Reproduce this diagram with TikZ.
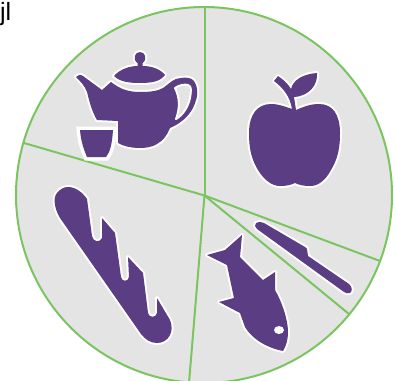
\documentclass[tikz,border=0pt]{standalone}
\usepackage{fontspec}
\setmainfont{Liberation Sans}
\definecolor{platepurple}{RGB}{90,61,130}
\definecolor{softgray}{RGB}{228,228,228}
\definecolor{spokegreen}{RGB}{122,197,96}

\begin{document}
\begin{tikzpicture}[
    x=1pt, y=-1pt,
    spoke/.style={draw=spokegreen, line width=2pt},
    food/.style={fill=platepurple, preaction={draw=white, line width=4pt, line join=round}},
    hole/.style={fill=softgray, draw=white, line width=2pt, line join=round}
]
\useasboundingbox (0,0) rectangle (395,380);
\clip (0,0) rectangle (395,380);

% Plate and spokes
\coordinate (hub) at (204.5,195.5);
\node[circle, fill=softgray, draw=spokegreen, line width=2pt, minimum size=376pt, inner sep=0pt] (plate) at (204,195) {};
\coordinate (spoketop) at (204.5,7);
\coordinate (spokeleft) at (24,143);
\coordinate (spokebottom) at (189,383);
\coordinate (spokeknife) at (380,261);
\coordinate (spokefish) at (349,314);
\foreach \s in {spoketop,spokeleft,spokebottom,spokeknife,spokefish}
    \draw[spoke] (hub) -- (\s);

% Teapot
\path[food] (114,76) .. controls (120,69) and (130,66) .. (137.5,66) -- (137.5,63) .. controls (132,59) and (135,52) .. (140,52)
    .. controls (145,52) and (148,59) .. (142.5,63) -- (142.5,66) .. controls (152,66) and (160,69) .. (165,75)
    .. controls (160,82) and (150,83) .. (140,83) .. controls (130,83) and (120,82) .. (114,76) -- cycle;
\path[food] (76,77) .. controls (78,75) and (80,74) .. (83,76) -- (102,90) -- (111,82)
    .. controls (120,89) and (128,92) .. (140,92) .. controls (150,92) and (158,91) .. (163,88)
    .. controls (170,83) and (174,78) .. (181,78) .. controls (186,77) and (191,78) .. (193,80)
    .. controls (198,85) and (198,95) .. (196,100) .. controls (193,112) and (184,122) .. (170,128)
    .. controls (168,132) and (167,135) .. (165,137) .. controls (162,141) and (160,142) .. (157,144)
    .. controls (148,150) and (128,149) .. (118,143)
    -- (118,121) -- (97,120) .. controls (92,112) and (89,100) .. (87,92) .. controls (85,86) and (80,81) .. (76,77) -- cycle;
\draw[hole] (175,88) .. controls (179,85) and (185,84) .. (188,85) .. controls (192,86) and (191,92) .. (190,98)
    .. controls (188,107) and (183,115) .. (176,119) .. controls (180,108) and (180,98) .. (175,88) -- cycle;
% Cup
\path[food, preaction={draw=white, line width=7pt, miter limit=10}] (80,130) -- (113,130) .. controls (112,145) and (110,152) .. (106,157)
    -- (87,157) .. controls (84,150) and (81,142) .. (80,130) -- cycle;

% Apple
\path[food] (296,110) .. controls (303,107) and (310,104) .. (319,104) .. controls (333,104) and (340,115) .. (340,133)
    .. controls (340,150) and (337,160) .. (331,170) .. controls (325,181) and (318,186) .. (310,186)
    .. controls (304,186) and (299,185) .. (295,183) .. controls (291,185) and (286,186) .. (280,186)
    .. controls (272,186) and (264,180) .. (258,170) .. controls (252,160) and (249,150) .. (249,133)
    .. controls (249,115) and (257,104) .. (271,104) .. controls (279,104) and (286,107) .. (292,109)
    .. controls (290,96) and (283,88) .. (274,81) -- (278,76)
    .. controls (284,80) and (288,84) .. (291,89) .. controls (293,80) and (303,74) .. (317,73)
    .. controls (318,84) and (310,96) .. (294,97) -- cycle;

% Baguette
\path[food] (68,187) .. controls (76,187) and (83,193) .. (87,199) -- (92,236) .. controls (93,242) and (100,243) .. (102,238)
    -- (102,218) -- (115,233) -- (121,277) .. controls (122,282) and (128,282) .. (129,277)
    -- (128,257) -- (143,273) -- (148,313) .. controls (149,318) and (156,318) .. (157,313)
    -- (157,298) -- (170,320) .. controls (175,332) and (168,343) .. (157,343) .. controls (150,343) and (145,339) .. (141,334)
    -- (60,218) .. controls (54,208) and (53,197) .. (57,193) .. controls (60,189) and (64,187) .. (68,187) -- cycle;

% Knife
\path[food] (256,223) .. controls (258,221) and (261,222) .. (264,223) -- (305,247) -- (307,249) -- (308,256) -- (349,284)
    .. controls (353,287) and (352,292) .. (350,293) .. controls (348,294) and (346,293) .. (344,292)
    -- (257,229) .. controls (255,227) and (254,225) .. (256,223) -- cycle;

% Fish
\path[food] (242,235) -- (240,257) -- (263,280) -- (275,272) -- (275,290)
    .. controls (282,302) and (288,320) .. (288,332) .. controls (288,340) and (286,346) .. (283,351)
    .. controls (272,349) and (254,342) .. (245,327) -- (240,313)
    -- (219,302) -- (234,298) -- (227,265) -- (207,255) -- (225,250) -- cycle;
\fill[white] (279,330) ellipse (5 and 4);

% Stray text
\node[anchor=base west, font=\fontsize{25}{25}\selectfont, inner sep=0pt, text=black] (jl) at (0,20) {jl};

\end{tikzpicture}
\end{document}
